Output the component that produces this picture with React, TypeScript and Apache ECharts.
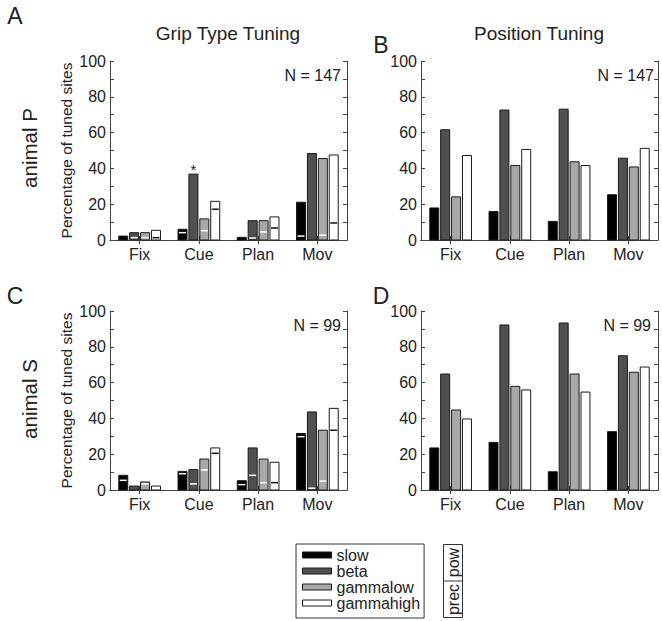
import React, { useEffect, useRef } from 'react';
import * as echarts from 'echarts';

// ---------- data ----------
const categories = ['Fix', 'Cue', 'Plan', 'Mov'];
const bands = ['slow', 'beta', 'gammalow', 'gammahigh'];
const yTicks = [0, 20, 40, 60, 80, 100];
const panelTitles = ['Grip Type Tuning', 'Position Tuning'];
const animals = ['animal P', 'animal S'];
const nLabels = ['N = 147', 'N = 147', 'N = 99', 'N = 99'];
const panelLetters = ['A', 'B', 'C', 'D'];

// Panel A: grip type tuning, animal P (total = pow+prec, prec = lower part)
const gripP_slow = [2.2, 6.0, 1.5, 21.1];
const gripP_beta = [4.1, 36.8, 10.8, 48.3];
const gripP_gammalow = [4.1, 11.8, 10.8, 45.5];
const gripP_gammahigh = [5.4, 21.6, 12.9, 47.5];
const gripP_slowPrec = [0, 4.1, 0, 2.2];
const gripP_betaPrec = [1.3, 0, 1.1, 0];
const gripP_gammalowPrec = [1.3, 5.2, 4.5, 2.7];
const gripP_gammahighPrec = [1.3, 17.2, 6.7, 9.5];
const gripP_signif = [0, 1, 0, 0]; // asterisk on beta

// Panel B: position tuning, animal P
const posP_slow = [17.9, 15.9, 10.4, 25.3];
const posP_beta = [61.6, 72.6, 73.1, 45.7];
const posP_gammalow = [24.1, 41.6, 43.7, 40.8];
const posP_gammahigh = [47.2, 50.6, 41.6, 51.2];

// Panel C: grip type tuning, animal S
const gripS_slow = [8.2, 10.4, 5.2, 31.6];
const gripS_beta = [2.2, 11.4, 23.5, 43.6];
const gripS_gammalow = [4.5, 17.3, 17.3, 33.4];
const gripS_gammahigh = [2.2, 23.5, 15.5, 45.6];
const gripS_slowPrec = [5.4, 9.1, 3.0, 29.8];
const gripS_betaPrec = [0, 3.4, 8.2, 1.0];
const gripS_gammalowPrec = [3.4, 11.2, 4.1, 5.0];
const gripS_gammahighPrec = [0, 20.5, 4.1, 33.4];

// Panel D: position tuning, animal S
const posS_slow = [23.5, 26.6, 10.2, 32.6];
const posS_beta = [64.8, 92.2, 93.3, 75.0];
const posS_gammalow = [44.7, 57.9, 64.8, 65.8];
const posS_gammahigh = [39.7, 55.9, 54.7, 68.7];

// ---------- styles ----------
const FONT = 'Liberation Sans, Arial, sans-serif';
const TXT = '#222';
const AX = '#444';
const EDGE = '#1a1a1a';
const FILL = ['#000000', '#505050', '#a8a8a8', '#ffffff'];

const grids = [
  { left: 110, top: 61, width: 237, height: 179 },
  { left: 421, top: 61, width: 237, height: 179 },
  { left: 110, top: 311, width: 237, height: 179 },
  { left: 421, top: 311, width: 237, height: 179 },
];

function barSeries(
  idx: number,
  g: number,
  totals: number[],
  precs: number[] | null,
  sig: number[] | null
) {
  return {
    type: 'custom',
    name: bands[idx],
    xAxisIndex: 2 * g,
    yAxisIndex: 2 * g,
    itemStyle: { color: FILL[idx], borderColor: EDGE, borderWidth: 1 },
    data: totals.map((t, c) => [c, t, precs ? precs[c] : 0, sig && sig[c] ? 1 : 0]),
    renderItem: (_params: any, api: any) => {
      const c = api.value(0);
      const t = api.value(1);
      const p = api.value(2);
      const s = api.value(3);
      const base = api.coord([c, 0]);
      const top = api.coord([c, t]);
      const bw = api.size([1, 0])[0];
      const step = bw * 0.184;
      const w = bw * 0.152;
      const x = base[0] + (idx - 1.5) * step - w / 2;
      const children: any[] = [
        {
          type: 'rect',
          shape: { x, y: top[1], width: w, height: base[1] - top[1] },
          style: { fill: FILL[idx], stroke: EDGE, lineWidth: 1 },
        },
      ];
      if (p > 0) {
        const m = api.coord([c, p]);
        children.push({
          type: 'line',
          shape: { x1: x + 1, y1: m[1], x2: x + w - 1, y2: m[1] },
          style: { stroke: idx === 3 ? '#111' : '#ffffff', lineWidth: 1.5 },
        });
      }
      if (s) {
        children.push({
          type: 'text',
          x: x + w / 2,
          y: top[1] + 3,
          style: {
            text: '*',
            fill: TXT,
            fontSize: 15,
            fontFamily: FONT,
            align: 'center',
            verticalAlign: 'bottom',
          },
        });
      }
      return { type: 'group', children };
    },
  };
}

export default function App() {
  const ref = useRef<HTMLDivElement>(null);
  useEffect(() => {
    if (!ref.current) return;
    const chart = echarts.init(ref.current, undefined, { renderer: 'svg' });

    const xAxes: any[] = [];
    const yAxes: any[] = [];
    grids.forEach((_, g) => {
      const tick = { show: true, inside: true, length: 4, lineStyle: { color: AX, width: 1 } };
      const line = { show: true, lineStyle: { color: AX, width: 1 } };
      xAxes.push({
        gridIndex: g,
        type: 'category',
        data: categories,
        position: 'bottom',
        boundaryGap: true,
        axisLine: line,
        axisTick: { ...tick, alignWithLabel: true },
        axisLabel: { fontSize: 16, color: TXT, margin: 6, fontFamily: FONT },
        splitLine: { show: false },
      });
      xAxes.push({
        gridIndex: g,
        type: 'category',
        data: categories,
        position: 'top',
        boundaryGap: true,
        axisLine: line,
        axisTick: { ...tick, alignWithLabel: true },
        axisLabel: { show: false },
        splitLine: { show: false },
      });
      yAxes.push({
        gridIndex: g,
        type: 'value',
        min: 0,
        max: 100,
        interval: 10,
        position: 'left',
        axisLine: line,
        axisTick: tick,
        axisLabel: {
          fontSize: 16,
          color: TXT,
          margin: 4,
          fontFamily: FONT,
          formatter: (v: number) => (yTicks.indexOf(v) >= 0 ? String(v) : ''),
        },
        splitLine: { show: false },
        name: g % 2 === 0 ? 'Percentage of tuned sites' : '',
        nameLocation: 'middle',
        nameGap: 36,
        nameTextStyle: { fontSize: 15.5, color: TXT, fontFamily: FONT },
      });
      yAxes.push({
        gridIndex: g,
        type: 'value',
        min: 0,
        max: 100,
        interval: 10,
        position: 'right',
        axisLine: line,
        axisTick: tick,
        axisLabel: { show: false },
        splitLine: { show: false },
      });
    });

    const series: any[] = [
      barSeries(0, 0, gripP_slow, gripP_slowPrec, null),
      barSeries(1, 0, gripP_beta, gripP_betaPrec, gripP_signif),
      barSeries(2, 0, gripP_gammalow, gripP_gammalowPrec, null),
      barSeries(3, 0, gripP_gammahigh, gripP_gammahighPrec, null),
      barSeries(0, 1, posP_slow, null, null),
      barSeries(1, 1, posP_beta, null, null),
      barSeries(2, 1, posP_gammalow, null, null),
      barSeries(3, 1, posP_gammahigh, null, null),
      barSeries(0, 2, gripS_slow, gripS_slowPrec, null),
      barSeries(1, 2, gripS_beta, gripS_betaPrec, null),
      barSeries(2, 2, gripS_gammalow, gripS_gammalowPrec, null),
      barSeries(3, 2, gripS_gammahigh, gripS_gammahighPrec, null),
      barSeries(0, 3, posS_slow, null, null),
      barSeries(1, 3, posS_beta, null, null),
      barSeries(2, 3, posS_gammalow, null, null),
      barSeries(3, 3, posS_gammahigh, null, null),
    ];

    const txt = (text: string, x: number, y: number, size: number, align = 'center', rotation = 0) => ({
      type: 'text',
      x,
      y,
      rotation,
      style: {
        text,
        fill: TXT,
        fontSize: size,
        fontFamily: FONT,
        align,
        verticalAlign: 'middle',
      },
    });

    const graphic: any[] = [
      txt(panelLetters[0], 15, 16, 23),
      txt(panelLetters[1], 381, 45, 23),
      txt(panelLetters[2], 15, 296, 23),
      txt(panelLetters[3], 381, 296, 23),
      txt(panelTitles[0], 228, 33, 19),
      txt(panelTitles[1], 539, 33, 19),
      txt(animals[0], 29, 148, 20.5, 'center', Math.PI / 2),
      txt(animals[1], 29, 399, 20.5, 'center', Math.PI / 2),
      txt(nLabels[0], 341, 75, 16, 'right'),
      txt(nLabels[1], 654, 75, 16, 'right'),
      txt(nLabels[2], 341, 325, 16, 'right'),
      txt(nLabels[3], 651, 325, 16, 'right'),
      {
        type: 'rect',
        shape: { x: 443.5, y: 544.5, width: 19, height: 73 },
        style: { fill: '#fff', stroke: '#333', lineWidth: 1 },
      },
      {
        type: 'line',
        shape: { x1: 443.5, y1: 581, x2: 462.5, y2: 581 },
        style: { stroke: '#333', lineWidth: 1 },
      },
      txt('pow', 453, 562.5, 16, 'center', Math.PI / 2),
      txt('prec', 453, 599.5, 16, 'center', Math.PI / 2),
    ];

    chart.setOption({
      animation: false,
      backgroundColor: '#ffffff',
      grid: grids,
      xAxis: xAxes,
      yAxis: yAxes,
      series,
      legend: {
        orient: 'vertical',
        left: 296,
        top: 544,
        padding: [3, 4, 7, 6],
        itemGap: 0,
        itemWidth: 29,
        itemHeight: 6,
        borderColor: '#333',
        borderWidth: 1,
        selectedMode: false,
        textStyle: { fontSize: 16, color: TXT, fontFamily: FONT, lineHeight: 16 },
        data: bands.map((b, i) => ({
          name: b,
          icon: 'rect',
          itemStyle: { color: FILL[i], borderColor: EDGE, borderWidth: 1 },
        })),
      },
      graphic,
    });
    return () => chart.dispose();
  }, []);

  return (
    <div
      ref={ref}
      style={{ position: 'fixed', left: 0, top: 0, width: 662, height: 621, background: '#fff' }}
    />
  );
}
